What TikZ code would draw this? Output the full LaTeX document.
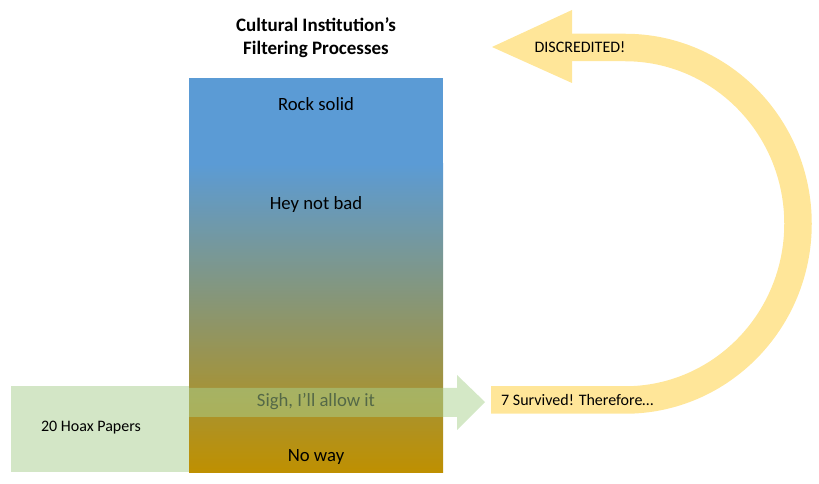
\documentclass[tikz,border=0pt]{standalone}
\usepackage{fontspec}
\setmainfont{Carlito}
\definecolor{topblue}{RGB}{91,155,213}
\definecolor{gold}{RGB}{191,144,0}
\definecolor{lgreen}{RGB}{169,209,142}
\definecolor{paleg}{RGB}{211,230,198}
\definecolor{lyellow}{RGB}{255,230,153}
\begin{document}
\begin{tikzpicture}[x=1pt,y=1pt,
  lbl/.style={font=\fontsize{18.7}{22}\selectfont, inner sep=0pt},
  small/.style={font=\fontsize{16}{19}\selectfont, inner sep=0pt},
  ttl/.style={font=\bfseries\fontsize{19}{23}\selectfont, align=center, inner sep=0pt}]
\useasboundingbox (0,0) rectangle (819,484);
% left box
\fill[paleg] (11,12) rectangle (189,98);
\node[small] (hoax) at (91,56) {20 Hoax Papers};
% filter column
\fill[topblue] (189,320) rectangle (443,406);
\shade[bottom color=gold, top color=topblue] (189,11) rectangle (443,320.5);
\node[ttl] (title) at (316,446) {Cultural Institution’s\\Filtering Processes};
\node[lbl] (rock) at (316,380) {Rock solid};
\node[lbl] (hey) at (316,279) {Hey not bad};
\node[lbl] (sigh) at (316,82) {Sigh, I’ll allow it};
\node[lbl] (noway) at (316,27) {No way};
% green arrow (semi-transparent)
\fill[lgreen, opacity=0.5] (189,67) -- (457,67) -- (457,54) -- (485,82) -- (457,109) -- (457,96) -- (189,96) -- cycle;
% yellow curved arrow
\coordinate (ys) at (491,84);
\coordinate (yb) at (625,84);
\coordinate (ye) at (572,436.5);
\draw[lyellow, line width=27.5pt] (ys) -- (yb) arc[start angle=-90, end angle=90, x radius=173, y radius=176.25] -- (ye);
\fill[lyellow] (572,474) -- (492,437) -- (572,401) -- cycle;
\node[small, anchor=west] (surv) at (501,84) {7 Survived! Therefore…};
\node[small] (disc) at (580,437) {DISCREDITED!};
\end{tikzpicture}
\end{document}
